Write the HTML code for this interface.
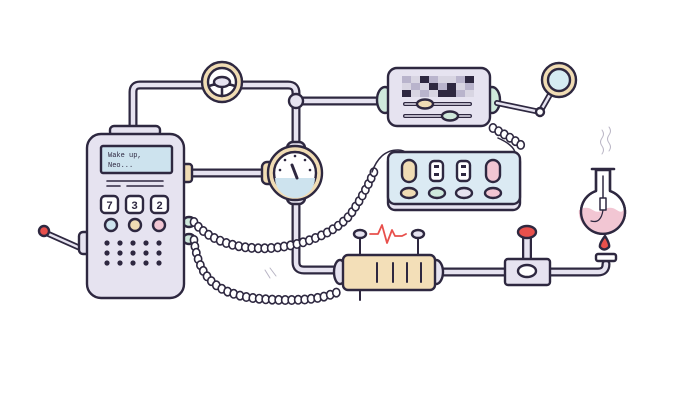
<!DOCTYPE html>
<html><head><meta charset="utf-8"><style>
html,body{margin:0;padding:0;background:#fff;width:698px;height:400px;overflow:hidden}
svg{display:block}
text{font-family:"Liberation Mono",monospace}
</style></head><body>
<svg id="s" width="698" height="400" viewBox="0 0 698 400" xmlns="http://www.w3.org/2000/svg" stroke="#2e2840" stroke-width="2.4" stroke-linejoin="round" stroke-linecap="round">
<g fill="none">
<path d="M133,130 V92 Q133,85 140,85 H288 Q296,85 296,93 V262 Q296,270 304,270 H345" stroke="#2e2840" stroke-width="9"/>
<path d="M133,130 V92 Q133,85 140,85 H288 Q296,85 296,93 V262 Q296,270 304,270 H345" stroke="#e6e3f0" stroke-width="4.5"/>
<path d="M296,101 H382 M190,173 H272 M436,272 H510 M550,272 H598 Q606,272 606,264" stroke="#2e2840" stroke-width="9"/>
<path d="M296,101 H382 M190,173 H272 M436,272 H510 M550,272 H598 Q606,272 606,264" stroke="#e6e3f0" stroke-width="4.5"/>
</g>
<circle cx="296" cy="101" r="7" fill="#e6e3f0"/>
<circle cx="222" cy="82" r="20" fill="#f0dcb4"/>
<circle cx="222" cy="82" r="14" fill="#fff"/>
<path d="M209,86 L222,82 L235,86 M222,82 V96" stroke-width="2.5"/>
<ellipse cx="222" cy="82" rx="8" ry="5" fill="#e6e3f0"/>
<rect x="287" y="142" width="18" height="62" rx="6" fill="#e6e3f0"/>
<rect x="262" y="162" width="12" height="22" rx="5" fill="#f0dcb4"/>
<circle cx="295" cy="173" r="27" fill="#f0dcb4"/>
<circle cx="295" cy="173" r="21" fill="#fff"/>
<path d="M275,178 H315 A20,20 0 0 1 275,178Z" fill="#cde3ee" stroke="none"/>
<path d="M292,165 L297,178" stroke-width="3"/>
<g fill="#2e2840" stroke="none"><circle cx="280" cy="170" r="1.3"/><circle cx="285" cy="160" r="1.3"/><circle cx="295" cy="156" r="1.3"/><circle cx="305" cy="160" r="1.3"/><circle cx="310" cy="170" r="1.3"/></g>
<rect x="110" y="126" width="50" height="10" rx="4" fill="#e6e3f0"/>
<path d="M44,232 L80,248" stroke-width="6"/><path d="M44,232 L80,248" stroke="#e6e3f0" stroke-width="2.5"/>
<circle cx="44" cy="231" r="5" fill="#e8504c"/>
<rect x="79" y="232" width="11" height="22" rx="4" fill="#e6e3f0"/>
<rect x="182" y="164" width="10" height="18" rx="3" fill="#f0dcb4"/>
<ellipse cx="189" cy="222" rx="6" ry="5" fill="#cfe9dc"/>
<ellipse cx="189" cy="239" rx="6" ry="5" fill="#cfe9dc"/>
<rect x="87" y="134" width="97" height="164" rx="14" fill="#e6e3f0"/>
<rect x="101" y="146" width="71" height="27" rx="2" fill="#cde3ee"/>
<text x="108" y="157" font-size="7" fill="#2e2840" stroke="none">Wake up,</text>
<text x="108" y="167" font-size="7" fill="#2e2840" stroke="none">Neo...</text>
<path d="M107,181 H163 M107,186 H120 M127,186 H163" stroke-width="1.6"/>
<g fill="#fff"><rect x="101" y="196" width="17" height="17" rx="4"/><rect x="126" y="196" width="17" height="17" rx="4"/><rect x="151" y="196" width="17" height="17" rx="4"/></g>
<g font-size="11" font-weight="bold" fill="#2e2840" stroke="none" text-anchor="middle" style="font-family:'Liberation Sans',sans-serif"><text x="109.5" y="209">7</text><text x="134.5" y="209">3</text><text x="159.5" y="209">2</text></g>
<circle cx="111" cy="225" r="6" fill="#cde3ee"/><circle cx="135" cy="225" r="6" fill="#f0dcb4"/><circle cx="159" cy="225" r="6" fill="#f2c6d3"/>
<g id="dots" fill="#2e2840" stroke="none"></g>
<g id="coils" fill="none" stroke-width="1.6"></g>
<path d="M372,172 Q380,150 398,150 Q410,150 410,165" fill="none" stroke-width="1.5"/>
<path d="M498,138 Q525,150 510,165 Q505,172 490,170" fill="none" stroke-width="1.5"/>
<ellipse cx="385" cy="100" rx="8" ry="13" fill="#cfe9dc"/>
<ellipse cx="492" cy="100" rx="8" ry="13" fill="#cfe9dc"/>
<path d="M497,103 L540,112 L556,84" fill="none" stroke-width="6"/><path d="M497,103 L540,112 L556,84" fill="none" stroke="#e6e3f0" stroke-width="2.5"/>
<circle cx="540" cy="112" r="4" fill="#fff"/>
<circle cx="559" cy="80" r="17" fill="#f0dcb4"/><circle cx="559" cy="80" r="11" fill="#d6ecf2"/>
<rect x="388" y="68" width="102" height="58" rx="9" fill="#e6e3f0"/>
<g id="pix" stroke="none"></g>
<path d="M405,104 H470 M405,116 H470" stroke-width="4"/><path d="M405,104 H470 M405,116 H470" stroke="#e6e3f0" stroke-width="1.5"/>
<ellipse cx="425" cy="104" rx="8" ry="4.5" fill="#f0dcb4"/><ellipse cx="450" cy="116" rx="8" ry="4.5" fill="#cfe9dc"/>
<rect x="388" y="155" width="132" height="55" rx="7" fill="#e6e3f0"/>
<rect x="388" y="152" width="132" height="52" rx="7" fill="#dbeaf3"/>
<rect x="402" y="160" width="14" height="22" rx="7" fill="#f0dcb4"/>
<rect x="430" y="161" width="13" height="20" rx="4" fill="#fff"/><rect x="457" y="161" width="13" height="20" rx="4" fill="#fff"/>
<rect x="486" y="160" width="14" height="22" rx="7" fill="#f2c6d3"/>
<g fill="#2e2840" stroke="none"><rect x="434" y="165" width="5" height="3"/><rect x="434" y="173" width="5" height="3"/><rect x="461" y="165" width="5" height="3"/><rect x="461" y="173" width="5" height="3"/></g>
<ellipse cx="409" cy="193" rx="8" ry="5" fill="#f0dcb4"/><ellipse cx="437" cy="193" rx="8" ry="5" fill="#cfe9dc"/><ellipse cx="464" cy="193" rx="8" ry="5" fill="#e6e3f0"/><ellipse cx="493" cy="193" rx="8" ry="5" fill="#f2c6d3"/>
<path d="M360,258 V237 M418,258 V237 M360,290 V300" stroke-width="2"/>
<ellipse cx="360" cy="234" rx="6" ry="4" fill="#e6e3f0"/><ellipse cx="418" cy="234" rx="6" ry="4" fill="#e6e3f0"/>
<path d="M370,234 H378 L382,225 L387,243 L392,230 L395,236 L402,236 L406,234" fill="none" stroke="#e8504c" stroke-width="1.8"/>
<ellipse cx="436" cy="272" rx="7" ry="12" fill="#e6e3f0"/>
<ellipse cx="340" cy="272" rx="6" ry="12" fill="#e6e3f0"/>
<rect x="343" y="255" width="92" height="35" rx="5" fill="#f3dfb8"/>
<path d="M377,263 V282 M393,263 V282 M407,263 V282 M421,263 V282" stroke-width="2"/>
<path d="M527,238 V266" stroke-width="10"/><path d="M527,238 V266" stroke="#e6e3f0" stroke-width="5.5"/>
<ellipse cx="527" cy="232" rx="9" ry="6" fill="#e8504c"/>
<rect x="505" y="259" width="45" height="26" rx="3" fill="#e6e3f0"/>
<ellipse cx="527" cy="271" rx="9" ry="6" fill="#fff"/>
<rect x="596" y="254" width="20" height="7" rx="2" fill="#fff"/>
<path d="M605,236 Q599,244 600,247 Q604,252 609,247 Q610,244 605,236Z" fill="#e8504c"/>
<path d="M596,170 V191 A22,22 0 1 0 610,191 V170 Z" fill="#fff"/>
<path d="M580,211 Q586,207 592,211 T604,211 T616,211 T624,211 A22,22 0 0 1 580,211Z" fill="#f2c6d3" stroke="#f2c6d3"/>
<path d="M596,170 V191 A22,22 0 1 0 610,191 V170" fill="none"/>
<path d="M592,169 H614" stroke-width="2.6"/>
<path d="M603,176 V198 M600,198 h6 v12 h-6z" fill="#fff" stroke-width="1.5"/>
<path d="M603,210 Q601,224 591,221" fill="none" stroke-width="1.2"/>
<path d="M602,130 q3,4 0,8 q-3,4 0,8 q3,4 0,8 M609,127 q3,4 0,8 q-3,4 0,8 q3,4 0,8" fill="none" stroke="#b8b4c4" stroke-width="1"/>
<path d="M265,270 l5,8 M270,268 l6,8" stroke="#b8b4c4" stroke-width="1"/>
</svg>
<script>
var NS="http://www.w3.org/2000/svg";
var d=document.getElementById('dots');
for(var r=0;r<3;r++)for(var c=0;c<5;c++){var e=document.createElementNS(NS,'circle');e.setAttribute('cx',107+c*13);e.setAttribute('cy',243+r*10);e.setAttribute('r',2.6);d.appendChild(e);}
var px=document.getElementById('pix');var cols=['#2e2840','#b9b4cc','#d8d5e2'];
var pat=[[1,2,0,1,2,2,1,0],[2,1,2,0,1,0,2,1],[0,2,1,2,0,0,1,2]];
for(var r=0;r<3;r++)for(var c=0;c<8;c++){var e=document.createElementNS(NS,'rect');e.setAttribute('x',402+c*9);e.setAttribute('y',76+r*7);e.setAttribute('width',9);e.setAttribute('height',7);e.setAttribute('fill',cols[pat[r][c]]);px.appendChild(e);}
var g=document.getElementById('coils');
var paths=["M194,222 C230,265 320,250 350,215 C362,198 368,185 374,172","M194,240 C200,290 230,300 290,300 C315,300 330,296 342,290","M493,128 C505,135 515,140 522,146"];
paths.forEach(function(p){var t=document.createElementNS(NS,'path');t.setAttribute('d',p);g.appendChild(t);var L=t.getTotalLength();g.removeChild(t);
for(var s=0;s<=L;s+=6.5){var q=t.getPointAtLength(s);var e=document.createElementNS(NS,'ellipse');e.setAttribute('cx',q.x.toFixed(1));e.setAttribute('cy',q.y.toFixed(1));e.setAttribute('rx',3.6);e.setAttribute('ry',4.2);e.setAttribute('fill','#fff');g.appendChild(e);}});
</script>
</body></html>
